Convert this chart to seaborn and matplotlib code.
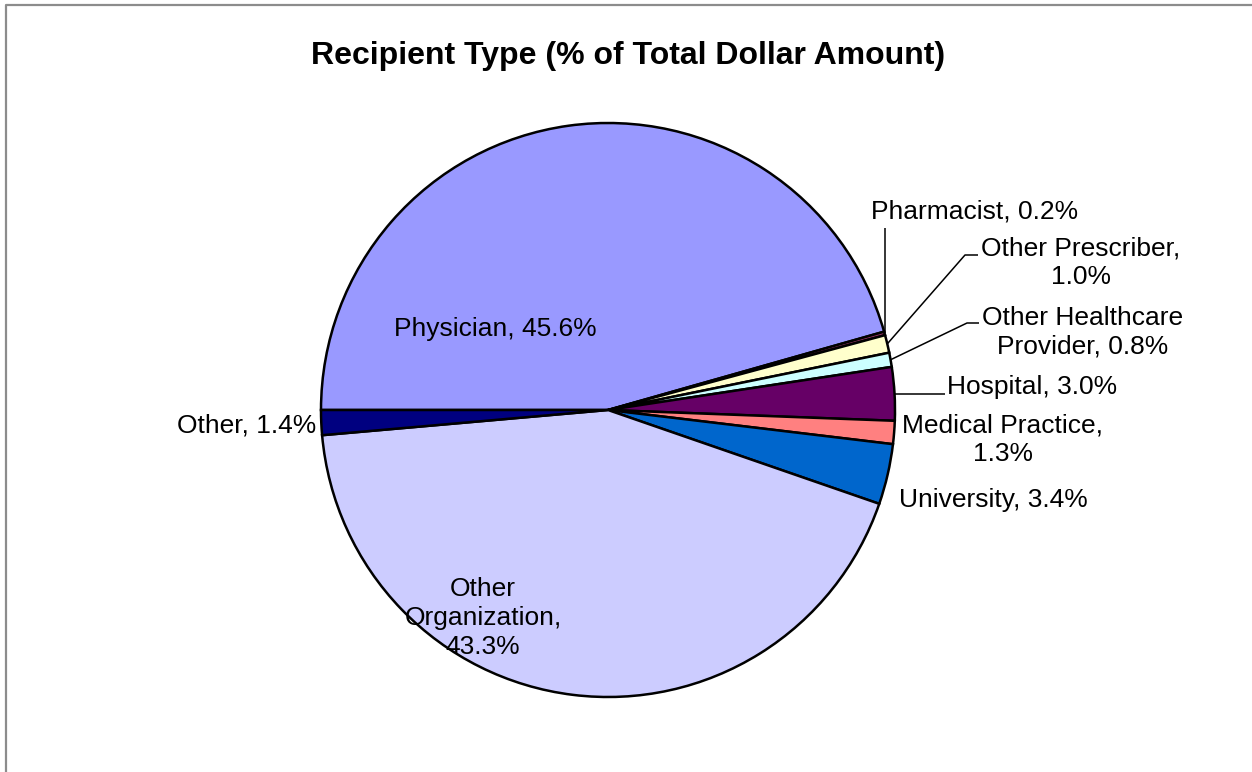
import textwrap

import matplotlib
matplotlib.use("Agg")
import matplotlib.pyplot as plt
import numpy as np
import seaborn as sns

# Share of total dollar amount by recipient type (percent)
categories = [
    "Physician", "Pharmacist", "Other Prescriber", "Other Healthcare Provider",
    "Hospital", "Medical Practice", "University", "Other Organization", "Other",
]
shares = [45.6, 0.2, 1.0, 0.8, 3.0, 1.3, 3.4, 43.3, 1.4]
slice_colors = [
    "#9999FF", "#993366", "#FFFFCC", "#CCFFFF", "#660066",
    "#FF8080", "#0066CC", "#CCCCFF", "#000080",
]
title = "Recipient Type (% of Total Dollar Amount)"

W, H = 1252, 772
CX, CY, R = 608, 410, 287

sns.set_theme(style="white")
plt.rcParams["font.family"] = ["Liberation Sans", "DejaVu Sans"]

fig = plt.figure(figsize=(W / 100, H / 100), dpi=100)
ax = fig.add_axes([0, 0, 1, 1])


def pt(x, y):
    """Canvas pixel position (origin top-left) to axes data units."""
    return x, H - y


palette = sns.color_palette(slice_colors)
wedges, _ = ax.pie(
    shares,
    colors=palette,
    startangle=180,
    counterclock=False,
    center=pt(CX, CY),
    radius=R,
    wedgeprops=dict(edgecolor="black", linewidth=1.8),
)
ax.set_xlim(0, W)
ax.set_ylim(0, H)
ax.set_aspect("auto")
ax.axis("off")

# label layout: anchor position, alignment, wrap width, optional leader elbow
layout = {
    "Physician": dict(xy=(495, 329), ha="center", wrap=None),
    "Pharmacist": dict(xy=(871, 212), ha="left", wrap=None,
                       leader=[(None, 228)]),
    "Other Prescriber": dict(xy=(1081, 263), ha="center", wrap=17,
                             leader=[(965, 255), (978, 255)]),
    "Other Healthcare Provider": dict(xy=(1083, 332), ha="center", wrap=16,
                                      leader=[(967, 323), (979, 323)]),
    "Hospital": dict(xy=(947, 387), ha="left", wrap=None,
                     leader=[(None, None, 945)]),
    "Medical Practice": dict(xy=(1003, 440), ha="center", wrap=17),
    "University": dict(xy=(899, 500), ha="left", wrap=None),
    "Other Organization": dict(xy=(483, 618), ha="center", wrap=13),
    "Other": dict(xy=(316, 426), ha="right", wrap=None),
}

fracs = np.array(shares) / sum(shares)
starts = np.concatenate([[0], np.cumsum(fracs)[:-1]])
mids = starts + fracs / 2

for cat, val, mid in zip(categories, shares, mids):
    spec = layout[cat]
    text = f"{cat}, {val:.1f}%"
    if spec["wrap"]:
        text = textwrap.fill(text, spec["wrap"])
    ax.text(*pt(*spec["xy"]), text, ha=spec["ha"], va="center",
            fontsize=19, color="black", multialignment="center",
            linespacing=1.25)

    if "leader" in spec:
        ang = np.deg2rad(180 - mid * 360)
        ex, ey = CX + R * np.cos(ang), CY - R * np.sin(ang)
        xs, ys = [ex], [ey]
        for p in spec["leader"]:
            if len(p) == 3:  # horizontal run to x
                xs.append(p[2]); ys.append(ey)
            elif p[0] is None:  # vertical run to y
                xs.append(ex); ys.append(p[1])
            else:
                xs.append(p[0]); ys.append(p[1])
        ax.plot(xs, [H - y for y in ys], color="black", linewidth=1.1,
                solid_capstyle="butt")

ax.text(*pt(628, 56), title, ha="center", va="center",
        fontsize=23, fontweight="bold", color="black")

# chart-area border (open to the right and bottom)
ax.plot([6, 6, W + 5], [-5, H - 5, H - 5], color="#8c8c8c", linewidth=1.6,
        clip_on=False)

fig.savefig("out.png", dpi=100, facecolor="white")
